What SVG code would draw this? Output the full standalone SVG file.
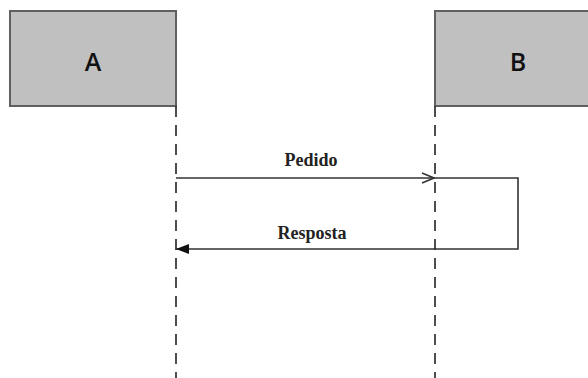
<svg xmlns="http://www.w3.org/2000/svg" width="588" height="378" viewBox="0 0 588 378">
  <style>
    .box { fill: #c0c0c0; stroke: #606060; stroke-width: 2; }
    .box-label { font-family: "Open Sans", "Liberation Sans", sans-serif; font-size: 25px; font-weight: 600; fill: #111; text-anchor: middle; }
    .lifeline { stroke: #222; stroke-width: 1.6; stroke-dasharray: 11 8; fill: none; }
    .msg { stroke: #333; stroke-width: 1.6; fill: none; }
    .msg-label { font-family: "Liberation Serif", "Times New Roman", serif; font-size: 18px; font-weight: bold; fill: #222; text-anchor: middle; }
  </style>
  <defs>
    <marker id="open-arrow" markerWidth="14" markerHeight="12" refX="13" refY="6" orient="auto" markerUnits="userSpaceOnUse">
      <path d="M1,1 L13,6 L1,11" fill="none" stroke="#333" stroke-width="1.6"/>
    </marker>
    <marker id="filled-arrow" markerWidth="14" markerHeight="12" refX="13" refY="6" orient="auto" markerUnits="userSpaceOnUse">
      <path d="M0,1 L13,6 L0,11 Z" fill="#111"/>
    </marker>
  </defs>
  <rect width="588" height="378" fill="#fff"/>

  <g id="node-a">
    <rect class="box" x="10" y="11" width="166" height="95"/>
    <text class="box-label" x="93" y="71">A</text>
  </g>

  <g id="node-b">
    <rect class="box" x="435" y="11" width="160" height="95"/>
    <text class="box-label" x="518" y="71">B</text>
  </g>

  <g id="connectors">
    <line class="lifeline" x1="176" y1="106" x2="176" y2="378"/>
    <line class="lifeline" x1="435" y1="106" x2="435" y2="378"/>
    <line class="msg" x1="176" y1="178" x2="434" y2="178" marker-end="url(#open-arrow)"/>
    <path class="msg" d="M434,178 H518 V249 H176" marker-end="url(#filled-arrow)"/>
    <text class="msg-label" x="311" y="166">Pedido</text>
    <text class="msg-label" x="312" y="239">Resposta</text>
  </g>
</svg>
